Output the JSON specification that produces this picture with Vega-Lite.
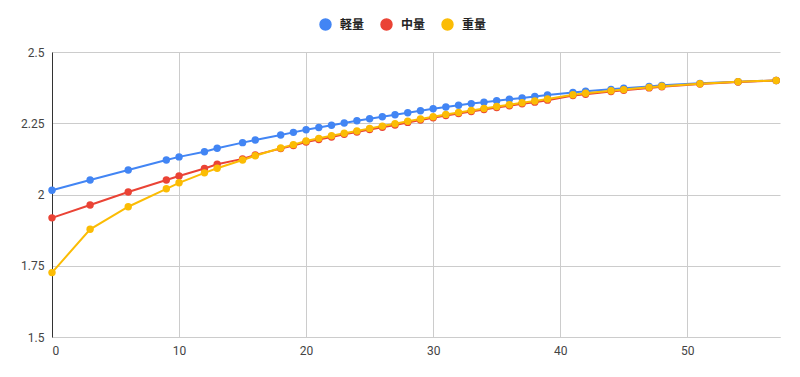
{
  "$schema": "https://vega.github.io/schema/vega-lite/v6.json",
  "autosize": {"type": "none"},
  "width": 728,
  "height": 285,
  "padding": {"left": 52, "top": 52, "right": 20, "bottom": 40},
  "background": "white",
  "config": {
    "view": {"stroke": null},
    "font": "Roboto",
    "axis": {"labelFont": "Roboto", "labelFontSize": 12, "labelColor": "#444444", "gridColor": "#cccccc", "gridWidth": 1, "ticks": false, "title": null}
  },
  "data": {
    "values": [
      {"x": 0, "s": "軽量", "y": 2.015}, {"x": 3, "s": "軽量", "y": 2.051}, {"x": 6, "s": "軽量", "y": 2.086}, {"x": 9, "s": "軽量", "y": 2.121}, {"x": 10, "s": "軽量", "y": 2.132}, {"x": 12, "s": "軽量", "y": 2.150}, {"x": 13, "s": "軽量", "y": 2.162}, {"x": 15, "s": "軽量", "y": 2.182}, {"x": 16, "s": "軽量", "y": 2.191}, {"x": 18, "s": "軽量", "y": 2.209}, {"x": 19, "s": "軽量", "y": 2.218}, {"x": 20, "s": "軽量", "y": 2.227}, {"x": 21, "s": "軽量", "y": 2.235}, {"x": 22, "s": "軽量", "y": 2.243}, {"x": 23, "s": "軽量", "y": 2.251}, {"x": 24, "s": "軽量", "y": 2.259}, {"x": 25, "s": "軽量", "y": 2.266}, {"x": 26, "s": "軽量", "y": 2.273}, {"x": 27, "s": "軽量", "y": 2.280}, {"x": 28, "s": "軽量", "y": 2.287}, {"x": 29, "s": "軽量", "y": 2.294}, {"x": 30, "s": "軽量", "y": 2.301}, {"x": 31, "s": "軽量", "y": 2.307}, {"x": 32, "s": "軽量", "y": 2.313}, {"x": 33, "s": "軽量", "y": 2.319}, {"x": 34, "s": "軽量", "y": 2.324}, {"x": 35, "s": "軽量", "y": 2.329}, {"x": 36, "s": "軽量", "y": 2.334}, {"x": 37, "s": "軽量", "y": 2.339}, {"x": 38, "s": "軽量", "y": 2.344}, {"x": 39, "s": "軽量", "y": 2.349}, {"x": 41, "s": "軽量", "y": 2.358}, {"x": 42, "s": "軽量", "y": 2.362}, {"x": 44, "s": "軽量", "y": 2.369}, {"x": 45, "s": "軽量", "y": 2.373}, {"x": 47, "s": "軽量", "y": 2.379}, {"x": 48, "s": "軽量", "y": 2.383}, {"x": 51, "s": "軽量", "y": 2.390}, {"x": 54, "s": "軽量", "y": 2.396}, {"x": 57, "s": "軽量", "y": 2.400},
      {"x": 0, "s": "中量", "y": 1.918}, {"x": 3, "s": "中量", "y": 1.963}, {"x": 6, "s": "中量", "y": 2.009}, {"x": 9, "s": "中量", "y": 2.051}, {"x": 10, "s": "中量", "y": 2.065}, {"x": 12, "s": "中量", "y": 2.091}, {"x": 13, "s": "中量", "y": 2.106}, {"x": 15, "s": "中量", "y": 2.125}, {"x": 16, "s": "中量", "y": 2.139}, {"x": 18, "s": "中量", "y": 2.161}, {"x": 19, "s": "中量", "y": 2.172}, {"x": 20, "s": "中量", "y": 2.184}, {"x": 21, "s": "中量", "y": 2.193}, {"x": 22, "s": "中量", "y": 2.202}, {"x": 23, "s": "中量", "y": 2.211}, {"x": 24, "s": "中量", "y": 2.219}, {"x": 25, "s": "中量", "y": 2.228}, {"x": 26, "s": "中量", "y": 2.236}, {"x": 27, "s": "中量", "y": 2.244}, {"x": 28, "s": "中量", "y": 2.253}, {"x": 29, "s": "中量", "y": 2.261}, {"x": 30, "s": "中量", "y": 2.269}, {"x": 31, "s": "中量", "y": 2.277}, {"x": 32, "s": "中量", "y": 2.284}, {"x": 33, "s": "中量", "y": 2.291}, {"x": 34, "s": "中量", "y": 2.298}, {"x": 35, "s": "中量", "y": 2.305}, {"x": 36, "s": "中量", "y": 2.311}, {"x": 37, "s": "中量", "y": 2.318}, {"x": 38, "s": "中量", "y": 2.324}, {"x": 39, "s": "中量", "y": 2.331}, {"x": 41, "s": "中量", "y": 2.347}, {"x": 42, "s": "中量", "y": 2.352}, {"x": 44, "s": "中量", "y": 2.361}, {"x": 45, "s": "中量", "y": 2.366}, {"x": 47, "s": "中量", "y": 2.374}, {"x": 48, "s": "中量", "y": 2.378}, {"x": 51, "s": "中量", "y": 2.388}, {"x": 54, "s": "中量", "y": 2.395}, {"x": 57, "s": "中量", "y": 2.400},
      {"x": 0, "s": "重量", "y": 1.726}, {"x": 3, "s": "重量", "y": 1.878}, {"x": 6, "s": "重量", "y": 1.957}, {"x": 9, "s": "重量", "y": 2.020}, {"x": 10, "s": "重量", "y": 2.041}, {"x": 12, "s": "重量", "y": 2.076}, {"x": 13, "s": "重量", "y": 2.092}, {"x": 15, "s": "重量", "y": 2.121}, {"x": 16, "s": "重量", "y": 2.136}, {"x": 18, "s": "重量", "y": 2.163}, {"x": 19, "s": "重量", "y": 2.175}, {"x": 20, "s": "重量", "y": 2.188}, {"x": 21, "s": "重量", "y": 2.197}, {"x": 22, "s": "重量", "y": 2.206}, {"x": 23, "s": "重量", "y": 2.215}, {"x": 24, "s": "重量", "y": 2.223}, {"x": 25, "s": "重量", "y": 2.232}, {"x": 26, "s": "重量", "y": 2.240}, {"x": 27, "s": "重量", "y": 2.248}, {"x": 28, "s": "重量", "y": 2.257}, {"x": 29, "s": "重量", "y": 2.265}, {"x": 30, "s": "重量", "y": 2.273}, {"x": 31, "s": "重量", "y": 2.281}, {"x": 32, "s": "重量", "y": 2.288}, {"x": 33, "s": "重量", "y": 2.295}, {"x": 34, "s": "重量", "y": 2.302}, {"x": 35, "s": "重量", "y": 2.309}, {"x": 36, "s": "重量", "y": 2.315}, {"x": 37, "s": "重量", "y": 2.322}, {"x": 38, "s": "重量", "y": 2.328}, {"x": 39, "s": "重量", "y": 2.335}, {"x": 41, "s": "重量", "y": 2.350}, {"x": 42, "s": "重量", "y": 2.355}, {"x": 44, "s": "重量", "y": 2.364}, {"x": 45, "s": "重量", "y": 2.368}, {"x": 47, "s": "重量", "y": 2.376}, {"x": 48, "s": "重量", "y": 2.380}, {"x": 51, "s": "重量", "y": 2.389}, {"x": 54, "s": "重量", "y": 2.396}, {"x": 57, "s": "重量", "y": 2.400}
    ]
  },
  "encoding": {
    "x": {"field": "x", "type": "quantitative", "scale": {"domain": [0, 57.3], "nice": false, "zero": false},
      "axis": {"values": [0, 10, 20, 30, 40, 50], "labelPadding": 8, "domainColor": "#cccccc", "grid": true}},
    "y": {"field": "y", "type": "quantitative", "scale": {"domain": [1.5, 2.5], "nice": false, "zero": false},
      "axis": {"values": [1.5, 1.75, 2, 2.25, 2.5], "labelExpr": "'' + datum.value", "labelPadding": 8, "domainColor": "#333333", "domainWidth": 1, "grid": true}},
    "color": {"field": "s", "type": "nominal",
      "scale": {"domain": ["軽量", "中量", "重量"], "range": ["#4285F4", "#EA4335", "#FBBC04"]},
      "legend": {"title": null, "orient": "none", "direction": "horizontal", "legendX": 267, "legendY": -34, "symbolType": "circle", "symbolSize": 120, "symbolOpacity": 1, "labelFont": "Noto Sans CJK JP", "labelFontSize": 12, "labelFontWeight": "bold", "labelColor": "#222222", "columnPadding": 13, "labelOffset": 8}},
    "detail": {"field": "s"},
    "order": {"field": "x", "type": "quantitative"}
  },
  "layer": [
    {"mark": {"type": "line", "strokeWidth": 2}},
    {"mark": {"type": "point", "filled": true, "opacity": 1, "size": 55}}
  ]
}
